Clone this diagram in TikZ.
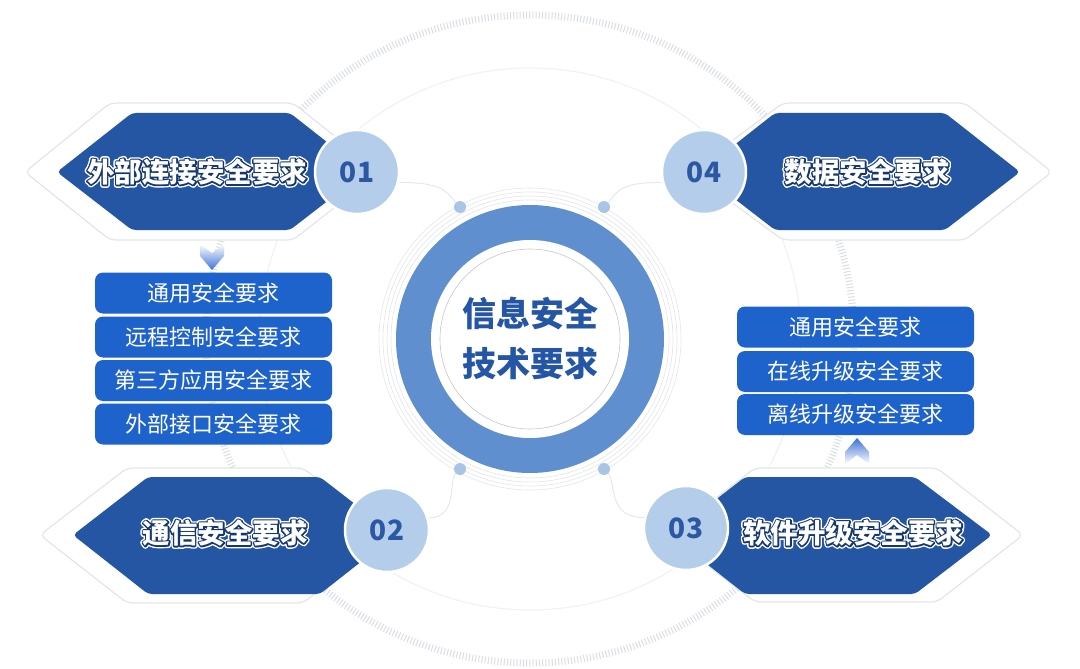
\documentclass[tikz,border=0pt]{standalone}
\usepackage{fontspec}
\newfontfamily\cjk{Noto Sans CJK SC}
\definecolor{hexdark}{HTML}{2456A4}
\definecolor{hexline}{HTML}{E2E6EC}
\definecolor{ringc}{HTML}{5F8FCE}
\definecolor{badgec}{HTML}{B3CDEA}
\definecolor{badget}{HTML}{2B57A3}
\definecolor{listblue}{HTML}{1E62CB}
\definecolor{centert}{HTML}{2556A5}
\definecolor{tickc}{HTML}{D9DEE5}
\definecolor{dotc}{HTML}{A8C5E6}
\definecolor{linkc}{HTML}{E3E6EA}
\definecolor{arrowc}{HTML}{3D72D6}
\newcommand\trmode[1]{\special{pdf:literal direct #1}}
\newcommand\outl[1]{%
\rlap{\trmode{q 1 Tr 1 j 5.6 w 1 1 1 RG}#1\trmode{Q}}%
\rlap{\trmode{q 1 Tr 1 j 2.8 w 0.086 0.212 0.431 RG}#1\trmode{Q}}%
{\color{white}#1}}
\begin{document}
\begin{tikzpicture}[x=1pt,y=-1pt,
  hexd/.style={fill=hexdark, rounded corners=4pt},
  hexo/.style={fill=white, draw=hexline, line width=1.2pt, rounded corners=6pt},
  badge/.style={circle, fill=badgec, draw=white, line width=2.5pt, minimum size=84pt, inner sep=0pt, text=badget, font=\cjk\bfseries\fontsize{28}{30}\selectfont},
  lbox/.style={rectangle, rounded corners=8pt, fill=listblue, minimum width=237pt, minimum height=41pt, inner sep=0pt, text=white, font=\cjk\fontsize{22}{24}\selectfont},
  htext/.style={font=\cjk\bfseries\fontsize{27.5}{30}\selectfont, inner sep=0pt},
  dotn/.style={circle, fill=dotc, minimum size=12pt, inner sep=0pt},
  link/.style={draw=linkc, line width=0.9pt},
  thinring/.style={draw=hexline, line width=0.6pt},
]
\useasboundingbox[fill=white] (0,0) rectangle (1080,669);
% background decorations
\draw[tickc, line width=7pt, dash pattern=on 1pt off 2.2pt] (530,339) circle (324pt);
\draw[draw=black!5, line width=1.2pt] (530,339) circle (271pt);
% outline hexagons
\draw[hexo] (25,172) -- (110,103) -- (293,103) -- (380,172) -- (293,240) -- (110,240) -- cycle;
\draw[hexo] (40,535) -- (127,468) -- (303,468) -- (390,535) -- (303,603) -- (127,603) -- cycle;
\draw[hexo] (690,172) -- (783,103) -- (965,103) -- (1052,172) -- (965,240) -- (783,240) -- cycle;
\draw[hexo] (668,535) -- (755,468) -- (937,468) -- (1023,535) -- (937,602) -- (755,602) -- cycle;
% dark hexagons
\fill[hexd] (57,172) -- (132,113) -- (290,113) -- (365,172) -- (290,230) -- (132,230) -- cycle;
\fill[hexd] (73,535) -- (148,477) -- (320,477) -- (395,535) -- (320,594) -- (148,594) -- cycle;
\fill[hexd] (700,172) -- (775,113) -- (945,113) -- (1020,172) -- (945,230) -- (775,230) -- cycle;
\fill[hexd] (670,535) -- (745,477) -- (915,477) -- (992,535) -- (915,594) -- (745,594) -- cycle;
% heading texts
\node[htext] (t1) at (197,172) {\outl{外部连接安全要求}};
\node[htext] (t2) at (225,533) {\outl{通信安全要求}};
\node[htext] (t4) at (867,172) {\outl{数据安全要求}};
\node[htext] (t3) at (853,533) {\outl{软件升级安全要求}};
% central ring
\draw[thinring] (530,339) circle (139pt);
\draw[draw=black!12, line width=0.5pt] (530,339) circle (143pt);
\draw[thinring] (530,339) circle (147pt);
\draw[thinring] (530,339) circle (151pt);
\fill[ringc] (530,339) circle (134pt);
\fill[white] (530,339) circle (99pt);
\draw[draw=black!22, line width=0.6pt] (530,339) circle (90pt);
\node[font=\cjk\bfseries\fontsize{34}{50}\selectfont, text=centert, align=center, inner sep=0pt] (ct) at (530,338) {信息安全\\技术要求};
% dots
\node[dotn] (d1) at (460,207) {};
\node[dotn] (d4) at (604,207) {};
\node[dotn] (d2) at (460,469) {};
\node[dotn] (d3) at (604,469) {};
% badges
\node[badge] (b1) at (357,172) {01};
\node[badge] (b4) at (704,172) {04};
\node[badge] (b2) at (387,530) {02};
\node[badge] (b3) at (686,528) {03};
% links badge -> dot
\draw[link] (b1.-14) .. controls +(38,0) and +(-10,-14) .. (d1.north west);
\draw[link] (b4.194) .. controls +(-38,0) and +(10,-14) .. (d4.north east);
\draw[link] (b2.16) .. controls +(30,-2) and +(-8,12) .. (d2.south west);
\draw[link] (b3.166) .. controls +(-36,0) and +(8,12) .. (d3.south east);
% left list
\node[lbox] (l1) at (213.5,293) {通用安全要求};
\node[lbox] (l2) at (213.5,337) {远程控制安全要求};
\node[lbox] (l3) at (213.5,380.5) {第三方应用安全要求};
\node[lbox] (l4) at (213.5,424) {外部接口安全要求};
% right list
\node[lbox] (r1) at (855.5,327) {通用安全要求};
\node[lbox] (r2) at (855.5,371.5) {在线升级安全要求};
\node[lbox] (r3) at (855.5,414.5) {离线升级安全要求};
% chevrons
\shade[top color=white, bottom color=arrowc] (200,244) -- (212,253) -- (224,244) -- (224,256) -- (212,270) -- (200,256) -- cycle;
\shade[top color=arrowc, bottom color=white] (845,464) -- (857,455) -- (869,464) -- (869,452) -- (857,438) -- (845,452) -- cycle;
\end{tikzpicture}
\end{document}
